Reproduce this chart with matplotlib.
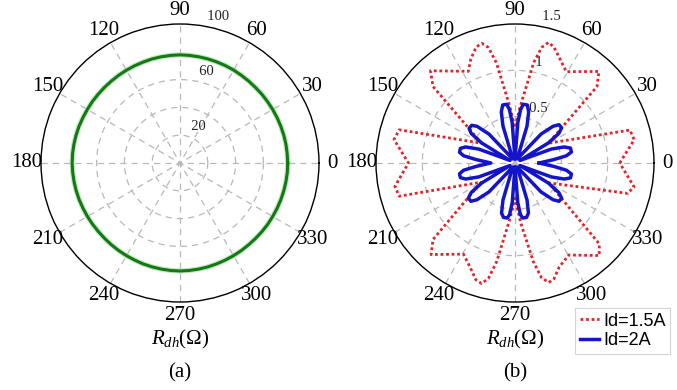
import numpy as np
import matplotlib
matplotlib.use("Agg")
import matplotlib.pyplot as plt
from matplotlib.lines import Line2D

plt.rcParams['font.family'] = ['Liberation Serif', 'DejaVu Serif']
plt.rcParams['mathtext.fontset'] = 'custom'
plt.rcParams['mathtext.rm'] = 'Liberation Serif'
plt.rcParams['mathtext.it'] = 'Liberation Serif:italic'

# ---------------- data ----------------
angle_ticks = list(range(0, 360, 30))

# (a) R_dh versus rotor angle, sampled every 5 degrees
green_theta = list(range(0, 365, 5))
green_r = [77.5, 77.4, 77.4, 77.3, 77.2, 77.1, 77.0, 76.9, 76.9, 76.8, 76.9, 77.0,
           77.2, 77.3, 77.4, 77.5, 77.6, 77.7, 77.8, 77.7, 77.6, 77.5, 77.3, 77.2,
           77.1, 77.0, 76.9, 76.9, 76.9, 77.0, 77.0, 77.1, 77.3, 77.4, 77.5, 77.6,
           77.6, 77.5, 77.4, 77.3, 77.2, 77.0, 76.9, 76.8, 76.7, 76.7, 76.8, 76.9,
           77.0, 77.1, 77.3, 77.4, 77.5, 77.6, 77.7, 77.6, 77.5, 77.4, 77.2, 77.1,
           77.0, 76.9, 76.8, 76.8, 76.9, 77.0, 77.0, 77.1, 77.2, 77.3, 77.4, 77.5,
           77.5]
rmax_a = 100
rings_a = [20, 40, 60]
rlabels_a = [20, 60, 100]

# (b) R_dh for two d-axis currents
red_theta = [0, 11, 16, 30.6, 43, 47.5, 60.7, 67, 71.5, 74.5, 77, 79.5, 84.6, 90,
             95.4, 100.5, 103, 105.5, 108.5, 113, 117, 132.5, 137, 149.4, 164, 169, 180,
             191, 196, 209.5, 223, 227.5, 240.5, 247, 251.5, 254.5, 257, 259.5, 264.5, 270,
             275.5, 280.5, 283, 285.8, 288.5, 293, 300.3, 312.3, 316.2, 329.4, 344.9, 348.7, 360]
red_r = [1.13, 1.31, 1.29, 0.42, 1.21, 1.34, 1.13, 1.23, 1.32, 1.35, 1.28, 1.10, 0.62, 0.38,
         0.62, 1.10, 1.28, 1.34, 1.32, 1.22, 1.11, 1.35, 1.21, 0.42, 1.30, 1.33, 1.15,
         1.32, 1.30, 0.42, 1.21, 1.34, 1.13, 1.23, 1.33, 1.35, 1.28, 1.08, 0.62, 0.38,
         0.65, 1.08, 1.27, 1.34, 1.32, 1.22, 1.15, 1.35, 1.26, 0.42, 1.26, 1.31, 1.13]

blue_theta = [0, 5, 8, 11, 15, 18, 21, 27, 31, 34, 37, 41, 44, 48, 61,
              72, 75, 78, 82, 84, 86, 90, 94, 96, 98, 102, 105, 108, 119,
              132, 136, 139, 143, 146, 149, 153, 159, 162, 165, 169, 172, 175, 180,
              185, 188, 191, 195, 198, 201, 207, 211, 214, 217, 221, 224, 228, 241,
              252, 255, 258, 262, 264, 266, 270, 274, 276, 278, 282, 285, 288, 299,
              312, 316, 319, 323, 326, 329, 333, 339, 342, 345, 349, 352, 355, 360]
blue_r = [0.26, 0.42, 0.56, 0.62, 0.62, 0.56, 0.42, 0.06, 0.42, 0.57, 0.63, 0.63, 0.57, 0.42, 0.05,
          0.42, 0.57, 0.64, 0.64, 0.58, 0.44, 0.04, 0.44, 0.58, 0.64, 0.64, 0.57, 0.42, 0.05,
          0.42, 0.57, 0.62, 0.62, 0.57, 0.42, 0.06, 0.42, 0.56, 0.61, 0.61, 0.56, 0.42, 0.26,
          0.42, 0.56, 0.61, 0.61, 0.56, 0.42, 0.06, 0.42, 0.57, 0.63, 0.63, 0.57, 0.42, 0.05,
          0.42, 0.56, 0.60, 0.60, 0.56, 0.43, 0.04, 0.43, 0.56, 0.60, 0.60, 0.56, 0.42, 0.05,
          0.42, 0.57, 0.63, 0.63, 0.57, 0.42, 0.06, 0.42, 0.56, 0.62, 0.62, 0.56, 0.42, 0.26]
rmax_b = 1.5
rings_b = [0.5, 1.0]
rlabels_b = [0.5, 1.0, 1.5]
rlabel_text_b = ['0.5', '1', '1.5']

legend_labels = ['Id=1.5A', 'Id=2A']
panel_tags = ['(a)', '(b)']

# ---------------- figure ----------------
W, H = 677, 390
fig = plt.figure(figsize=(W / 100, H / 100), dpi=100)
R = 139  # polar radius in pixels

GRID = '#b8b8b8'


def polar_frame(cx, cy, rmax, rings, rlabels, rlabel_text):
    ax = fig.add_axes([(cx - R) / W, (H - cy - R) / H, 2 * R / W, 2 * R / H],
                      projection='polar')
    ax.set_ylim(0, rmax)
    ax.set_xticks([])
    ax.set_yticks([])
    ax.grid(False)
    ax.spines['polar'].set_linewidth(1.0)
    ax.spines['polar'].set_color('black')
    full = np.linspace(0, 2 * np.pi, 361)
    for rr in rings:
        ax.plot(full, np.full_like(full, rr), color=GRID, lw=0.9,
                linestyle=(0, (5, 4)), zorder=1)
    for t in range(0, 180, 30):
        ax.plot(np.deg2rad([t + 180, t]), [rmax, rmax], color=GRID, lw=0.9,
                linestyle=(0, (5, 4)), zorder=1)
    rinc = rlabels[1] - rlabels[0]
    for val, txt in zip(rlabels, rlabel_text):
        ax.text(np.deg2rad(82), val + rinc / 20, '  ' + txt, ha='left', va='bottom',
                fontsize=10.5, color='#222222', clip_on=False, zorder=5)
    for t in angle_ticks:
        ax.text(np.deg2rad(t), 1.1 * rmax, str(t), ha='center', va='center',
                fontsize=15, clip_on=False)
    return ax


ax_a = polar_frame(180, 163, rmax_a, rings_a, rlabels_a, [str(v) for v in rlabels_a])
ax_a.plot(np.deg2rad(green_theta), green_r, color='#a8dca8', lw=3.8, alpha=0.7, zorder=3)
ax_a.plot(np.deg2rad(green_theta), green_r, color='#137a13', lw=2.2, zorder=4)

ax_b = polar_frame(515, 163, rmax_b, rings_b, rlabels_b, rlabel_text_b)
ax_b.plot(np.deg2rad(red_theta), red_r, color='#e0242a', lw=2.0,
          linestyle=(0, (1, 1)), zorder=3)
ax_b.plot(np.deg2rad(blue_theta), blue_r, color='#1414c8', lw=2.5,
          solid_joinstyle='round', zorder=4)

for cx, tag in zip([180, 515], panel_tags):
    fig.text(cx / W, 1 - 339 / H, r'$R_{dh}(\Omega)$', ha='center', va='center', fontsize=15)
    fig.text(cx / W, 1 - 373 / H, tag, ha='center', va='center', fontsize=15)

handles = [Line2D([], [], color='#e0242a', lw=2.0, linestyle=(0, (1, 1))),
           Line2D([], [], color='#1414c8', lw=2.5)]
leg = fig.legend(handles, legend_labels, loc='upper left',
                 bbox_to_anchor=(575 / W, 1 - 308 / H), borderaxespad=0,
                 prop={'family': 'Liberation Sans', 'size': 13},
                 frameon=True, fancybox=False, edgecolor='#c8c8c8',
                 borderpad=0.25, handlelength=1.1, handletextpad=0.2,
                 labelspacing=0.15)
leg.get_frame().set_linewidth(0.8)

fig.savefig('out.png', dpi=100)
